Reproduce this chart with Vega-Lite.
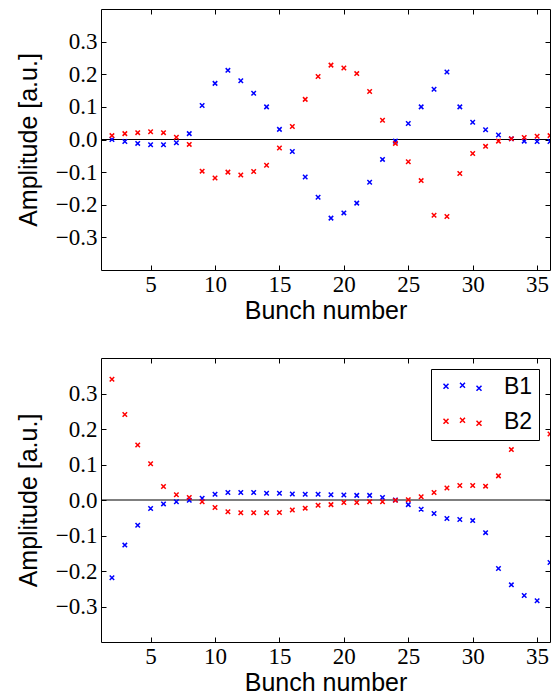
{
  "$schema": "https://vega.github.io/schema/vega-lite/v6.json",
  "padding": {"left": 15, "top": 8, "right": 0, "bottom": 0},
  "background": "white",
  "datasets": {
    "top": [
      {"bunch": 2, "beam": "B1", "amp": 0.000}, {"bunch": 3, "beam": "B1", "amp": -0.006}, {"bunch": 4, "beam": "B1", "amp": -0.012},
      {"bunch": 5, "beam": "B1", "amp": -0.016}, {"bunch": 6, "beam": "B1", "amp": -0.016}, {"bunch": 7, "beam": "B1", "amp": -0.010},
      {"bunch": 8, "beam": "B1", "amp": 0.018}, {"bunch": 9, "beam": "B1", "amp": 0.104}, {"bunch": 10, "beam": "B1", "amp": 0.172},
      {"bunch": 11, "beam": "B1", "amp": 0.212}, {"bunch": 12, "beam": "B1", "amp": 0.180}, {"bunch": 13, "beam": "B1", "amp": 0.142},
      {"bunch": 14, "beam": "B1", "amp": 0.100}, {"bunch": 15, "beam": "B1", "amp": 0.031}, {"bunch": 16, "beam": "B1", "amp": -0.037},
      {"bunch": 17, "beam": "B1", "amp": -0.115}, {"bunch": 18, "beam": "B1", "amp": -0.177}, {"bunch": 19, "beam": "B1", "amp": -0.241},
      {"bunch": 20, "beam": "B1", "amp": -0.225}, {"bunch": 21, "beam": "B1", "amp": -0.195}, {"bunch": 22, "beam": "B1", "amp": -0.131},
      {"bunch": 23, "beam": "B1", "amp": -0.061}, {"bunch": 24, "beam": "B1", "amp": -0.005}, {"bunch": 25, "beam": "B1", "amp": 0.049},
      {"bunch": 26, "beam": "B1", "amp": 0.100}, {"bunch": 27, "beam": "B1", "amp": 0.154}, {"bunch": 28, "beam": "B1", "amp": 0.207},
      {"bunch": 29, "beam": "B1", "amp": 0.100}, {"bunch": 30, "beam": "B1", "amp": 0.053}, {"bunch": 31, "beam": "B1", "amp": 0.030},
      {"bunch": 32, "beam": "B1", "amp": 0.014}, {"bunch": 33, "beam": "B1", "amp": 0.002}, {"bunch": 34, "beam": "B1", "amp": -0.005},
      {"bunch": 35, "beam": "B1", "amp": -0.006}, {"bunch": 36, "beam": "B1", "amp": -0.006},
      {"bunch": 2, "beam": "B2", "amp": 0.012}, {"bunch": 3, "beam": "B2", "amp": 0.018}, {"bunch": 4, "beam": "B2", "amp": 0.021},
      {"bunch": 5, "beam": "B2", "amp": 0.024}, {"bunch": 6, "beam": "B2", "amp": 0.021}, {"bunch": 7, "beam": "B2", "amp": 0.007},
      {"bunch": 8, "beam": "B2", "amp": -0.015}, {"bunch": 9, "beam": "B2", "amp": -0.097}, {"bunch": 10, "beam": "B2", "amp": -0.118},
      {"bunch": 11, "beam": "B2", "amp": -0.100}, {"bunch": 12, "beam": "B2", "amp": -0.109}, {"bunch": 13, "beam": "B2", "amp": -0.098},
      {"bunch": 14, "beam": "B2", "amp": -0.079}, {"bunch": 15, "beam": "B2", "amp": -0.026}, {"bunch": 16, "beam": "B2", "amp": 0.040},
      {"bunch": 17, "beam": "B2", "amp": 0.123}, {"bunch": 18, "beam": "B2", "amp": 0.193}, {"bunch": 19, "beam": "B2", "amp": 0.228},
      {"bunch": 20, "beam": "B2", "amp": 0.219}, {"bunch": 21, "beam": "B2", "amp": 0.202}, {"bunch": 22, "beam": "B2", "amp": 0.147},
      {"bunch": 23, "beam": "B2", "amp": 0.059}, {"bunch": 24, "beam": "B2", "amp": -0.012}, {"bunch": 25, "beam": "B2", "amp": -0.068},
      {"bunch": 26, "beam": "B2", "amp": -0.126}, {"bunch": 27, "beam": "B2", "amp": -0.232}, {"bunch": 28, "beam": "B2", "amp": -0.236},
      {"bunch": 29, "beam": "B2", "amp": -0.104}, {"bunch": 30, "beam": "B2", "amp": -0.043}, {"bunch": 31, "beam": "B2", "amp": -0.021},
      {"bunch": 32, "beam": "B2", "amp": -0.005}, {"bunch": 33, "beam": "B2", "amp": 0.002}, {"bunch": 34, "beam": "B2", "amp": 0.006},
      {"bunch": 35, "beam": "B2", "amp": 0.010}, {"bunch": 36, "beam": "B2", "amp": 0.012}
    ],
    "bottom": [
      {"bunch": 2, "beam": "B1", "amp": -0.219}, {"bunch": 3, "beam": "B1", "amp": -0.127}, {"bunch": 4, "beam": "B1", "amp": -0.071},
      {"bunch": 5, "beam": "B1", "amp": -0.024}, {"bunch": 6, "beam": "B1", "amp": -0.011}, {"bunch": 7, "beam": "B1", "amp": -0.005},
      {"bunch": 8, "beam": "B1", "amp": -0.001}, {"bunch": 9, "beam": "B1", "amp": 0.005}, {"bunch": 10, "beam": "B1", "amp": 0.016},
      {"bunch": 11, "beam": "B1", "amp": 0.021}, {"bunch": 12, "beam": "B1", "amp": 0.021}, {"bunch": 13, "beam": "B1", "amp": 0.021},
      {"bunch": 14, "beam": "B1", "amp": 0.019}, {"bunch": 15, "beam": "B1", "amp": 0.019}, {"bunch": 16, "beam": "B1", "amp": 0.017},
      {"bunch": 17, "beam": "B1", "amp": 0.016}, {"bunch": 18, "beam": "B1", "amp": 0.016}, {"bunch": 19, "beam": "B1", "amp": 0.015},
      {"bunch": 20, "beam": "B1", "amp": 0.014}, {"bunch": 21, "beam": "B1", "amp": 0.013}, {"bunch": 22, "beam": "B1", "amp": 0.013},
      {"bunch": 23, "beam": "B1", "amp": 0.007}, {"bunch": 24, "beam": "B1", "amp": 0.000}, {"bunch": 25, "beam": "B1", "amp": -0.013},
      {"bunch": 26, "beam": "B1", "amp": -0.026}, {"bunch": 27, "beam": "B1", "amp": -0.038}, {"bunch": 28, "beam": "B1", "amp": -0.052},
      {"bunch": 29, "beam": "B1", "amp": -0.055}, {"bunch": 30, "beam": "B1", "amp": -0.058}, {"bunch": 31, "beam": "B1", "amp": -0.092},
      {"bunch": 32, "beam": "B1", "amp": -0.193}, {"bunch": 33, "beam": "B1", "amp": -0.239}, {"bunch": 34, "beam": "B1", "amp": -0.269},
      {"bunch": 35, "beam": "B1", "amp": -0.284}, {"bunch": 36, "beam": "B1", "amp": -0.176},
      {"bunch": 2, "beam": "B2", "amp": 0.340}, {"bunch": 3, "beam": "B2", "amp": 0.241}, {"bunch": 4, "beam": "B2", "amp": 0.155},
      {"bunch": 5, "beam": "B2", "amp": 0.102}, {"bunch": 6, "beam": "B2", "amp": 0.038}, {"bunch": 7, "beam": "B2", "amp": 0.015},
      {"bunch": 8, "beam": "B2", "amp": 0.007}, {"bunch": 9, "beam": "B2", "amp": -0.005}, {"bunch": 10, "beam": "B2", "amp": -0.021},
      {"bunch": 11, "beam": "B2", "amp": -0.033}, {"bunch": 12, "beam": "B2", "amp": -0.036}, {"bunch": 13, "beam": "B2", "amp": -0.036},
      {"bunch": 14, "beam": "B2", "amp": -0.036}, {"bunch": 15, "beam": "B2", "amp": -0.035}, {"bunch": 16, "beam": "B2", "amp": -0.028},
      {"bunch": 17, "beam": "B2", "amp": -0.023}, {"bunch": 18, "beam": "B2", "amp": -0.015}, {"bunch": 19, "beam": "B2", "amp": -0.013},
      {"bunch": 20, "beam": "B2", "amp": -0.007}, {"bunch": 21, "beam": "B2", "amp": -0.007}, {"bunch": 22, "beam": "B2", "amp": -0.005},
      {"bunch": 23, "beam": "B2", "amp": -0.005}, {"bunch": 24, "beam": "B2", "amp": -0.001}, {"bunch": 25, "beam": "B2", "amp": 0.001},
      {"bunch": 26, "beam": "B2", "amp": 0.009}, {"bunch": 27, "beam": "B2", "amp": 0.021}, {"bunch": 28, "beam": "B2", "amp": 0.034},
      {"bunch": 29, "beam": "B2", "amp": 0.041}, {"bunch": 30, "beam": "B2", "amp": 0.041}, {"bunch": 31, "beam": "B2", "amp": 0.039},
      {"bunch": 32, "beam": "B2", "amp": 0.068}, {"bunch": 33, "beam": "B2", "amp": 0.142}, {"bunch": 34, "beam": "B2", "amp": 0.195},
      {"bunch": 35, "beam": "B2", "amp": 0.233}, {"bunch": 36, "beam": "B2", "amp": 0.186}
    ]
  },
  "vconcat": [
    {
      "width": 449,
      "height": 261,
      "data": {"name": "top"},
      "layer": [
        {
          "data": {"values": [{}]},
          "mark": {"type": "rule", "color": "black", "strokeWidth": 1.2},
          "encoding": {
            "x": {"datum": 1.15, "type": "quantitative", "scale": {"domain": [1.15, 36], "nice": false, "zero": false},
                  "axis": {"orient": "top", "labels": false, "title": null, "values": [5, 10, 15, 20, 25, 30, 35]}},
            "x2": {"datum": 36},
            "y": {"datum": 0, "type": "quantitative", "scale": {"domain": [-0.4, 0.4], "nice": false},
                  "axis": {"orient": "right", "labels": false, "title": null, "values": [-0.3, -0.2, -0.1, 0, 0.1, 0.2, 0.3]}}
          }
        },
        {
          "mark": {"type": "point", "shape": "M-1,-1L1,1M-1,1L1,-1", "filled": false, "size": 20, "strokeWidth": 1.5, "opacity": 1, "clip": true},
          "encoding": {
            "x": {"field": "bunch", "type": "quantitative", "scale": {"domain": [1.15, 36], "nice": false, "zero": false},
                  "axis": {"orient": "bottom", "title": "Bunch number", "values": [5, 10, 15, 20, 25, 30, 35], "format": "d", "labelPadding": 8, "titlePadding": 2}},
            "y": {"field": "amp", "type": "quantitative", "scale": {"domain": [-0.4, 0.4], "nice": false},
                  "axis": {"orient": "left", "title": "Amplitude [a.u.]", "values": [-0.3, -0.2, -0.1, 0, 0.1, 0.2, 0.3], "format": ".1f", "titlePadding": 14}},
            "color": {"field": "beam", "type": "nominal", "scale": {"domain": ["B1", "B2"], "range": ["#0000ff", "#ff0000"]}, "legend": null}
          }
        }
      ],
      "resolve": {"axis": {"x": "independent", "y": "independent"}}
    },
    {
      "width": 449,
      "height": 284,
      "data": {"name": "bottom"},
      "layer": [
        {
          "data": {"values": [{}]},
          "mark": {"type": "rule", "color": "black", "strokeWidth": 1.2},
          "encoding": {
            "x": {"datum": 1.15, "type": "quantitative", "scale": {"domain": [1.15, 36], "nice": false, "zero": false},
                  "axis": {"orient": "top", "labels": false, "title": null, "values": [5, 10, 15, 20, 25, 30, 35]}},
            "x2": {"datum": 36},
            "y": {"datum": 0, "type": "quantitative", "scale": {"domain": [-0.4, 0.4], "nice": false},
                  "axis": {"orient": "right", "labels": false, "title": null, "values": [-0.3, -0.2, -0.1, 0, 0.1, 0.2, 0.3]}}
          }
        },
        {
          "mark": {"type": "point", "shape": "M-1,-1L1,1M-1,1L1,-1", "filled": false, "size": 20, "strokeWidth": 1.5, "opacity": 1, "clip": true},
          "encoding": {
            "x": {"field": "bunch", "type": "quantitative", "scale": {"domain": [1.15, 36], "nice": false, "zero": false},
                  "axis": {"orient": "bottom", "title": "Bunch number", "values": [5, 10, 15, 20, 25, 30, 35], "format": "d", "labelPadding": 8, "titlePadding": 2}},
            "y": {"field": "amp", "type": "quantitative", "scale": {"domain": [-0.4, 0.4], "nice": false},
                  "axis": {"orient": "left", "title": "Amplitude [a.u.]", "values": [-0.3, -0.2, -0.1, 0, 0.1, 0.2, 0.3], "format": ".1f", "titlePadding": 14}},
            "color": {"field": "beam", "type": "nominal", "scale": {"domain": ["B1", "B2"], "range": ["#0000ff", "#ff0000"]},
                      "legend": {"orient": "top-right", "offset": 11, "title": null,
                                 "symbolType": "M-7.6,-1.1L-5.6,0.9M-7.6,0.9L-5.6,-1.1M-1,-1.5L1,0.5M-1,0.5L1,-1.5M5.6,-0.3L7.6,1.7M5.6,1.7L7.6,-0.3",
                                 "symbolSize": 25, "symbolStrokeWidth": 1.5, "symbolOffset": 14, "labelOffset": 30,
                                 "labelFont": "Liberation Sans", "labelFontSize": 23, "labelColor": "black",
                                 "strokeColor": "black", "fillColor": "white", "padding": 6, "rowPadding": 11, "cornerRadius": 0}}
          }
        }
      ],
      "resolve": {"axis": {"x": "independent", "y": "independent"}, "scale": {"color": "independent"}}
    }
  ],
  "spacing": 33,
  "resolve": {"scale": {"color": "independent"}},
  "config": {
    "view": {"stroke": "black", "strokeWidth": 1},
    "axis": {
      "grid": false, "domain": false, "tickColor": "black", "tickSize": -5, "tickWidth": 1,
      "labelFont": "Liberation Serif", "labelFontSize": 23, "labelColor": "black", "labelPadding": 9,
      "labelFlush": false, "labelOverlap": false,
      "titleFont": "Liberation Sans", "titleFontSize": 25, "titleFontWeight": "normal", "titleColor": "black", "titlePadding": 4
    }
  }
}
